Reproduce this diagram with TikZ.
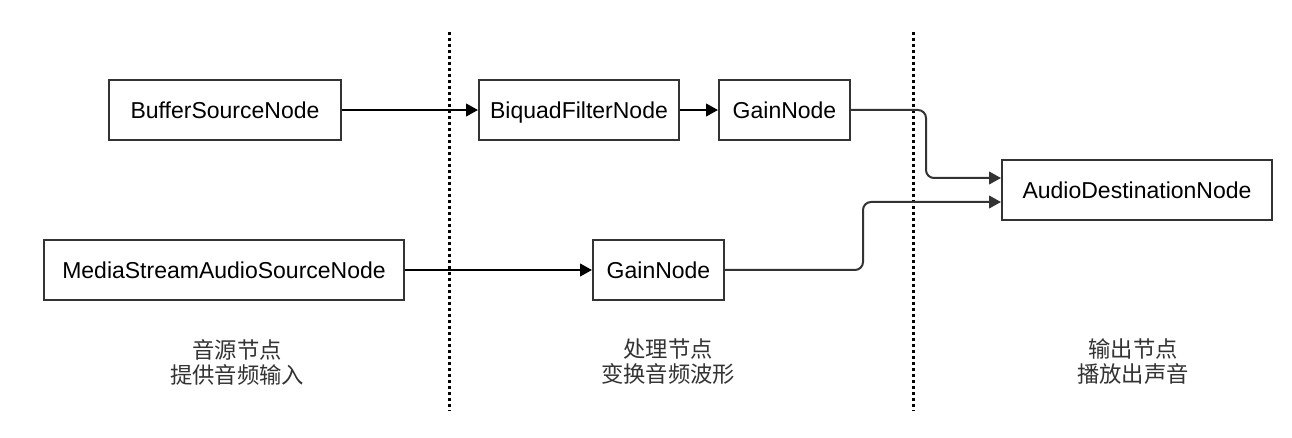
\documentclass[tikz,border=0pt]{standalone}
\usepackage{fontspec}
\setmainfont{Liberation Sans}
\newfontfamily\cjk{Noto Sans CJK SC}
\usetikzlibrary{arrows.meta}
\definecolor{ink}{HTML}{333333}
\begin{document}
\begin{tikzpicture}[x=0.75pt,y=-0.75pt,
  box/.style={draw=ink,line width=1.5pt,inner sep=0pt,minimum height=45pt,fill=white,
    text height=12.35pt,text depth=0pt,
    font=\fontsize{17.25pt}{21pt}\selectfont},
  conn/.style={draw=black,line width=1.5pt,-{Triangle[length=9pt,width=9.5pt]}},
  elbow/.style={conn,draw=ink,rounded corners=6pt},
  sep/.style={line width=2.25pt,dash pattern=on 2.25pt off 2.25pt},
  lab/.style={align=center,text=ink,font=\cjk\fontsize{16.75pt}{18.75pt}\selectfont}]
\useasboundingbox (0,0) rectangle (1292,438);
\fill[white] (0,0) rectangle (1292,438);
% separators
\coordinate (s1t) at (449,32);
\coordinate (s1b) at (449,411);
\coordinate (s2t) at (913,32);
\coordinate (s2b) at (913,411);
\draw[sep] (s1t) -- (s1b);
\draw[sep] (s2t) -- (s2b);
% nodes
\node[box,minimum width=174pt] (buf) at (225,110) {BufferSourceNode};
\node[box,minimum width=150pt] (bq) at (579,110) {BiquadFilterNode};
\node[box,minimum width=98.25pt] (g1) at (784.5,110) {GainNode};
\node[box,minimum width=202.5pt] (dest) at (1137,190) {AudioDestinationNode};
\node[box,minimum width=270pt] (ms) at (224,270) {MediaStreamAudioSourceNode};
\node[box,minimum width=98.25pt] (g2) at (658.5,270) {GainNode};
% connectors
\coordinate (c1) at (926,178);
\coordinate (c2) at (863,202);
\draw[conn] (buf.east) -- (bq.west);
\draw[conn] (bq.east) -- (g1.west);
\draw[conn] (ms.east) -- (g2.west);
\draw[elbow] (g1.east) -| (c1) -- (c1 -| dest.west);
\draw[elbow] (g2.east) -| (c2) -- (c2 -| dest.west);
% labels
\node[lab] (l1) at (237,362) {音源节点\\提供音频输入};
\node[lab] (l2) at (668,362) {处理节点\\变换音频波形};
\node[lab] (l3) at (1133,362) {输出节点\\播放出声音};
\end{tikzpicture}
\end{document}
